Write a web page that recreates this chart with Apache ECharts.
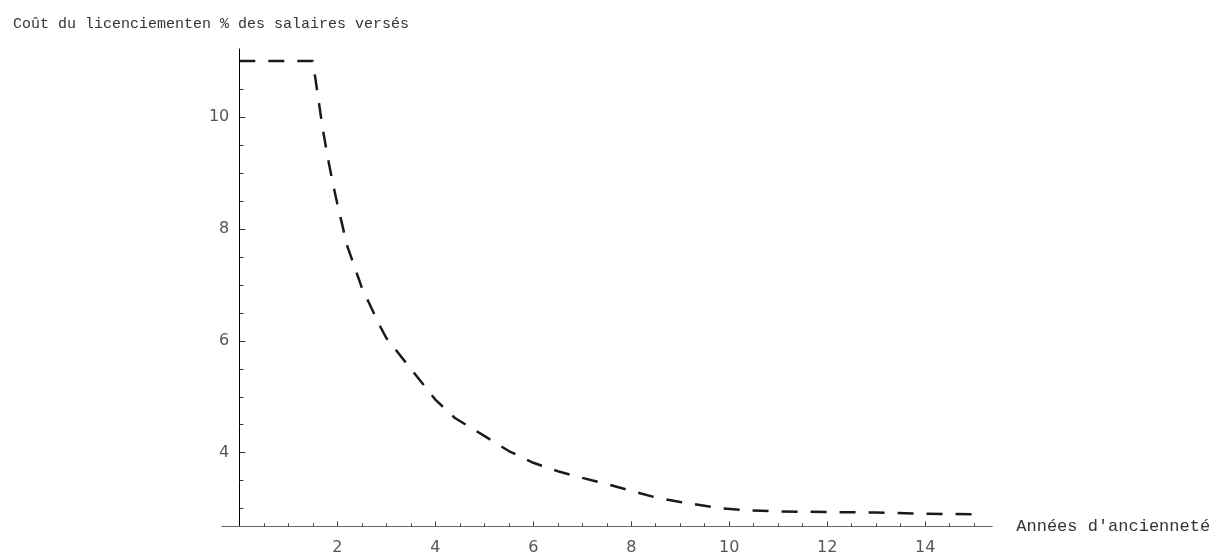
<!DOCTYPE html>
<html>
<head>
<meta charset="utf-8">
<script src="https://cdn.jsdelivr.net/npm/echarts@6/dist/echarts.min.js"></script>
<style>
  html, body { margin: 0; padding: 0; background: #fff; }
  #chart { width: 1224px; height: 555px; }
</style>
</head>
<body>
<div id="chart"></div>
<script>
// données
const anciennete = [0, 1.5, 1.6, 1.7, 1.8, 1.9, 2, 2.2, 2.5, 2.85, 3, 3.5, 4, 4.4, 5, 5.5, 6, 6.5, 7, 7.5, 8, 8.5, 9, 9.8, 10.4, 11, 12, 13, 14, 15];
const cout = [11, 11, 10.4, 9.8, 9.3, 8.85, 8.45, 7.7, 6.95, 6.3, 6.05, 5.5, 4.95, 4.62, 4.3, 4.03, 3.82, 3.67, 3.55, 3.44, 3.32, 3.2, 3.12, 3.01, 2.97, 2.95, 2.94, 2.93, 2.91, 2.9];

const xMajor = [2, 4, 6, 8, 10, 12, 14];
const xMinor = [0.5, 1, 1.5, 2.5, 3, 3.5, 4.5, 5, 5.5, 6.5, 7, 7.5, 8.5, 9, 9.5, 10.5, 11, 11.5, 12.5, 13, 13.5, 14.5, 15];
const yMajor = [4, 6, 8, 10];
const yMinor = [3, 3.5, 4.5, 5, 5.5, 6.5, 7, 7.5, 8.5, 9, 9.5, 10.5, 11];

const titre = 'Coût du licenciementen % des salaires versés';
const nomX = "Années d'ancienneté";

const X_MIN = -0.36, X_MAX = 15.37;
const Y_MIN = 2.685, Y_MAX = 11.215;

let myChart = echarts.init(document.getElementById('chart'));

const labelStyle = {
  color: '#555',
  fontFamily: 'DejaVu Sans',
  fontSize: 16
};

let option = {
  animation: false,
  title: {
    text: titre,
    left: 8,
    top: 12,
    textStyle: {
      fontFamily: 'Liberation Mono',
      fontWeight: 'normal',
      fontSize: 15,
      color: '#333'
    }
  },
  grid: {
    left: 221.7,
    right: 231.7,
    top: 49,
    bottom: 28.7,
    containLabel: false,
    outerBoundsMode: 'none'
  },
  xAxis: [{
    type: 'value',
    position: 'bottom',
    min: X_MIN,
    max: X_MAX,
    name: nomX,
    nameLocation: 'end',
    nameGap: 24,
    nameTextStyle: {
      fontFamily: 'Liberation Mono',
      fontSize: 17,
      color: '#333',
      verticalAlign: 'middle'
    },
    axisLine: { onZero: false, lineStyle: { color: '#666', width: 1 } },
    axisTick: { inside: true, length: 5, customValues: xMajor, lineStyle: { color: '#444' } },
    axisLabel: Object.assign({ customValues: xMajor, margin: 14 }, labelStyle),
    splitLine: { show: false }
  }, {
    type: 'value',
    position: 'bottom',
    min: X_MIN,
    max: X_MAX,
    axisLine: { show: false, onZero: false },
    axisTick: { inside: true, length: 3, customValues: xMinor, lineStyle: { color: '#444' } },
    axisLabel: { show: false },
    splitLine: { show: false }
  }],
  yAxis: [{
    type: 'value',
    position: 'left',
    min: Y_MIN,
    max: Y_MAX,
    axisLine: { onZero: true, onZeroAxisIndex: 0, lineStyle: { color: '#000', width: 1 } },
    axisTick: { inside: true, length: 6, customValues: yMajor, lineStyle: { color: '#333' } },
    axisLabel: Object.assign({ customValues: yMajor, margin: -7.6 }, labelStyle),
    splitLine: { show: false }
  }, {
    type: 'value',
    position: 'left',
    min: Y_MIN,
    max: Y_MAX,
    axisLine: { show: false, onZero: true, onZeroAxisIndex: 0 },
    axisTick: { inside: true, length: 4, customValues: yMinor, lineStyle: { color: '#333' } },
    axisLabel: { show: false },
    splitLine: { show: false }
  }],
  series: [{
    type: 'line',
    xAxisIndex: 0,
    yAxisIndex: 0,
    data: anciennete.map((x, i) => [x, cout[i]]),
    showSymbol: false,
    smooth: false,
    lineStyle: {
      color: '#1a1a1a',
      width: 2.5,
      type: [16, 13],
      cap: 'butt'
    }
  }]
};
myChart.setOption(option);
</script>
</body>
</html>
